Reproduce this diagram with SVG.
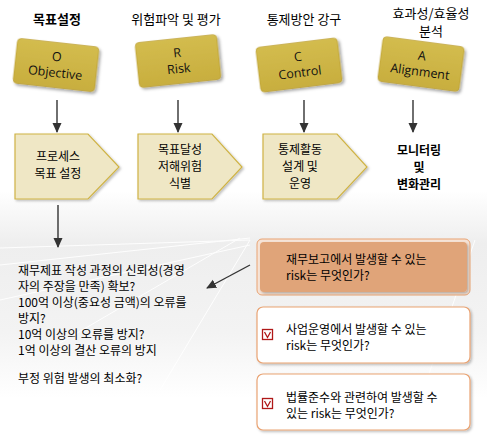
<svg xmlns="http://www.w3.org/2000/svg" width="487" height="443" viewBox="0 0 487 443">
<defs>
<linearGradient id="bg" x1="0" y1="0" x2="0" y2="443" gradientUnits="userSpaceOnUse">
<stop offset="0.43" stop-color="#ffffff"/>
<stop offset="0.55" stop-color="#eeeeee"/>
<stop offset="0.75" stop-color="#f3f3f3"/>
<stop offset="0.9" stop-color="#ffffff"/>
</linearGradient>
<linearGradient id="gold" x1="0" y1="0" x2="0" y2="1">
<stop offset="0" stop-color="#d3bc4e"/>
<stop offset="1" stop-color="#c8ae3e"/>
</linearGradient>
<filter id="sh" x="-20%" y="-20%" width="150%" height="150%">
<feDropShadow dx="2" dy="2" stdDeviation="1.5" flood-color="#000" flood-opacity="0.35"/>
</filter>
<filter id="sh2" x="-10%" y="-10%" width="130%" height="130%">
<feDropShadow dx="1.5" dy="1.5" stdDeviation="1" flood-color="#000" flood-opacity="0.25"/>
</filter>
<marker id="ah" markerWidth="10" markerHeight="10" refX="9" refY="5" orient="auto" markerUnits="userSpaceOnUse">
<path d="M0,0.5 L10,5 L0,9.5 z" fill="#333"/>
</marker>
</defs>
<style>
.ko{font-family:"Noto Sans CJK KR","Noto Sans",sans-serif;font-size:12px;fill:#000}
.hd{font-family:"Noto Sans CJK KR","Noto Sans",sans-serif;font-size:13px;fill:#000;text-anchor:middle}
.b{font-weight:bold}
.card rect{fill:url(#gold);stroke:#b89a2e;stroke-width:0.6;filter:url(#sh)}
.card text{font-family:"Open Sans","Noto Sans",sans-serif;font-size:12.5px;fill:#111;text-anchor:middle}
.pent{fill:#efe7c5;stroke:#cfb345;stroke-width:1.2;filter:url(#sh2)}
.mid{text-anchor:middle}
.con line{stroke:#333;stroke-width:1.4;marker-end:url(#ah)}
.rb{fill:#ffffff;stroke:#e9a373;stroke-width:1.2;filter:url(#sh2)}
.chk{fill:#fff;stroke:#b01818;stroke-width:1.3}
</style>
<rect width="487" height="443" fill="url(#bg)"/>
<g stroke="#ffffff" stroke-width="1" opacity="0.9" fill="none">
<path d="M0,265 L250,238"/>
<path d="M0,300 L250,245"/>
<path d="M60,343 L240,238"/>
<path d="M160,390 L250,240"/>
<path d="M0,248 L250,240"/>
<path d="M475,240 L420,400"/>
</g>

<g id="h1"><text class="hd b" x="57" y="24">목표설정</text></g>
<g id="h2"><text class="hd" x="176" y="24">위험파악 및 평가</text></g>
<g id="h3"><text class="hd" x="304" y="24">통제방안 강구</text></g>
<g id="h4"><text class="hd" x="431" y="18" font-size="12">효과성/효율성</text><text class="hd" x="431" y="35.5" font-size="12">분석</text></g>

<g id="cardO" class="card" transform="translate(56,65) rotate(6.3)"><rect x="-41" y="-22.5" width="82" height="45" rx="4"/><text x="0" y="-4">O</text><text x="0" y="12">Objective</text></g>
<g id="cardR" class="card" transform="translate(178,61) rotate(-6)"><rect x="-41" y="-22.5" width="82" height="45" rx="4"/><text x="0" y="-4">R</text><text x="0" y="12">Risk</text></g>
<g id="cardC" class="card" transform="translate(299,65) rotate(-7)"><rect x="-41" y="-22.5" width="82" height="45" rx="4"/><text x="0" y="-4">C</text><text x="0" y="12">Control</text></g>
<g id="cardA" class="card" transform="translate(421,64) rotate(7.5)"><rect x="-41" y="-22.5" width="82" height="45" rx="4"/><text x="0" y="-4">A</text><text x="0" y="12">Alignment</text></g>

<g id="p1"><path class="pent" d="M15,134 L88,134 L119,167 L88,199 L15,199 Z"/><text class="ko mid" x="58" y="161">프로세스</text><text class="ko mid" x="58" y="178">목표 설정</text></g>
<g id="p2"><path class="pent" d="M138,134 L212,134 L242,167 L212,199 L138,199 Z"/><text class="ko mid" x="180" y="154">목표달성</text><text class="ko mid" x="180" y="171">저해위험</text><text class="ko mid" x="180" y="188">식별</text></g>
<g id="p3"><path class="pent" d="M263,134 L337,134 L367,167 L337,199 L263,199 Z"/><text class="ko mid" x="300" y="154">통제활동</text><text class="ko mid" x="300" y="171">설계 및</text><text class="ko mid" x="300" y="188">운영</text></g>
<g id="p4"><text class="ko mid b" x="419" y="155" font-size="13">모니터링</text><text class="ko mid b" x="419" y="172" font-size="13">및</text><text class="ko mid b" x="419" y="189" font-size="13">변화관리</text></g>

<g id="txt">
<text class="ko" x="18" y="275">재무제표 작성 과정의 신뢰성(경영</text>
<text class="ko" x="18" y="291">자의 주장을 만족) 확보?</text>
<text class="ko" x="18" y="307">100억 이상(중요성 금액)의 오류를</text>
<text class="ko" x="18" y="323">방지?</text>
<text class="ko" x="18" y="339">10억 이상의 오류를 방지?</text>
<text class="ko" x="18" y="355">1억 이상의 결산 오류의 방지</text>
<text class="ko" x="18" y="383">부정 위험 발생의 최소화?</text>
</g>

<g id="bA"><rect x="257" y="239" width="213" height="56" rx="5" fill="#f6e3d6" stroke="#e9a373" stroke-width="1"/><rect x="260" y="242" width="207" height="50" rx="4" fill="#e0a479" filter="url(#sh2)"/><text class="ko" x="286" y="264">재무보고에서 발생할 수 있는</text><text class="ko" x="286" y="280">risk는 무엇인가?</text></g>
<g id="bB"><rect class="rb" x="257" y="307" width="213" height="56" rx="6"/><rect class="chk" x="262.5" y="329.5" width="10" height="10"/><path d="M264.5,332 L267.5,337.5 L270.5,332" fill="none" stroke="#b01818" stroke-width="1.3"/><text class="ko" x="286" y="334">사업운영에서 발생할 수 있는</text><text class="ko" x="286" y="350">risk는 무엇인가?</text></g>
<g id="bC"><rect class="rb" x="257" y="374" width="213" height="56" rx="6"/><rect class="chk" x="262.5" y="398.5" width="10" height="10"/><path d="M264.5,401 L267.5,406.5 L270.5,401" fill="none" stroke="#b01818" stroke-width="1.3"/><text class="ko" x="286" y="402">법률준수와 관련하여 발생할 수</text><text class="ko" x="286" y="418">있는 risk는 무엇인가?</text></g>

<g id="connectors" class="con">
<line x1="57" y1="100" x2="57" y2="132"/>
<line x1="178" y1="100" x2="178" y2="132"/>
<line x1="304" y1="100" x2="304" y2="132"/>
<line x1="413" y1="100" x2="413" y2="132"/>
<line x1="58" y1="205" x2="58" y2="247"/>
<line x1="250" y1="265" x2="207" y2="288"/>
</g>
</svg>
